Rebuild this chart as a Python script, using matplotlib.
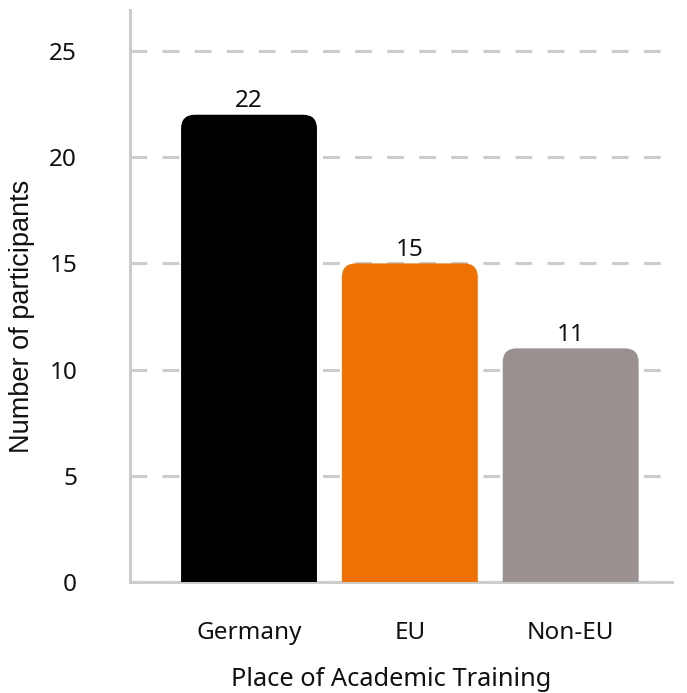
import matplotlib
matplotlib.use("Agg")
import matplotlib.pyplot as plt
from matplotlib.patches import FancyBboxPatch

places = ["Germany", "EU", "Non-EU"]
participants = [22, 15, 11]
bar_colors = ["#000000", "#ED7203", "#9A9090"]

fig = plt.figure(figsize=(6.87, 6.93), dpi=100)
ax = fig.add_axes([130 / 687, 111 / 693, 542 / 687, 572 / 693])

ylim_top = 572 / 21.24
ax.set_xlim(-0.74, 2.63)
ax.set_ylim(0, ylim_top)

# rounded tops: px per data unit on each axis decides the aspect
px_x = 542 / (2.63 + 0.74)
px_y = 572 / ylim_top
aspect = px_x / px_y
width = 0.845
radius = 14 / px_x
for i, (val, col) in enumerate(zip(participants, bar_colors)):
    patch = FancyBboxPatch((i - width / 2 + radius, -3), width - 2 * radius,
                           val + 3 - radius * aspect,
                           boxstyle=f"round,pad={radius},rounding_size={radius}",
                           mutation_aspect=aspect, facecolor=col,
                           edgecolor="none", zorder=3)
    ax.add_patch(patch)
    ax.text(i, val + 0.08, str(val), ha="center", va="bottom",
            fontsize=17.5, family="Noto Sans", color="#111111")

ax.set_yticks(range(0, 26, 5))
ax.yaxis.grid(True, color="#CCCCCC", linewidth=2.2, linestyle=(0, (5.5, 5)))
ax.set_axisbelow(True)
ax.set_xticks(range(len(places)))
ax.set_xticklabels(places)
ax.tick_params(axis="both", length=0, labelsize=17.5, labelcolor="#111111")
ax.tick_params(axis="y", pad=38)
ax.tick_params(axis="x", pad=28)
for lab in ax.get_xticklabels() + ax.get_yticklabels():
    lab.set_family("Noto Sans")

for side in ["top", "right"]:
    ax.spines[side].set_visible(False)
for side in ["left", "bottom"]:
    ax.spines[side].set_color("#CCCCCC")
    ax.spines[side].set_linewidth(2.2)

ax.set_xlabel("Place of Academic Training", fontsize=18.3, family="Noto Sans",
              color="#111111")
ax.xaxis.set_label_coords((391 - 130) / 542, (582 - 680) / 572)
ax.xaxis.label.set_verticalalignment("center")

ax.set_ylabel("Number of participants", fontsize=19.5, family="Liberation Sans",
              color="#111111")
ax.yaxis.set_label_coords((22 - 130) / 542, (582 - 316) / 572)
ax.yaxis.label.set_verticalalignment("center")

fig.savefig("out.png", dpi=100)
